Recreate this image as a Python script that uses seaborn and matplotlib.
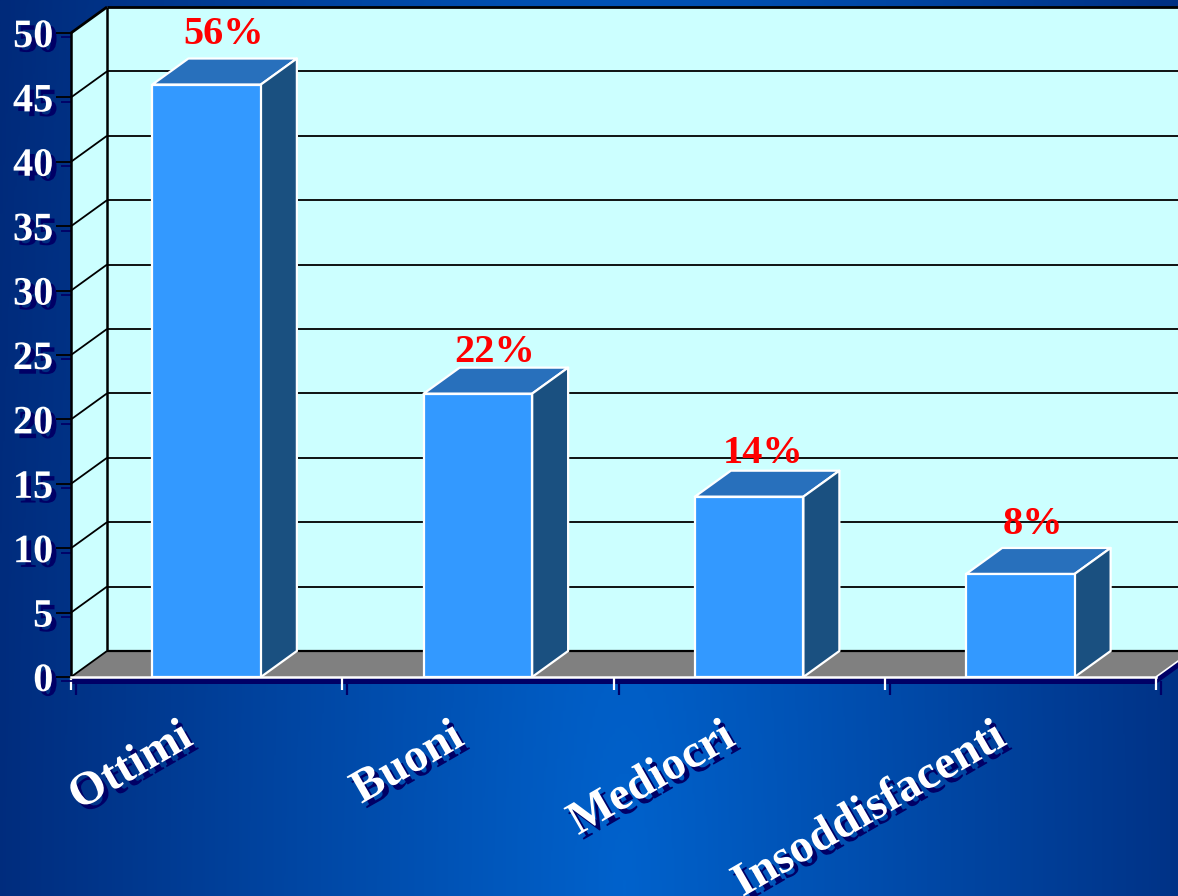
import matplotlib
matplotlib.use("Agg")
import matplotlib.pyplot as plt
import matplotlib.patheffects as pe
from matplotlib.colors import LinearSegmentedColormap
from matplotlib.patches import Polygon
from matplotlib.lines import Line2D
from matplotlib.transforms import IdentityTransform, ScaledTranslation
import numpy as np
import pandas as pd
import seaborn as sns

# Survey ratings and the heights of their columns
categories = ["Ottimi", "Buoni", "Mediocri", "Insoddisfacenti"]
bar_heights = [46, 22, 14, 8]
percent_labels = ["56%", "22%", "14%", "8%"]
y_ticks = [0, 5, 10, 15, 20, 25, 30, 35, 40, 45, 50]

W, H, DPI = 1178, 896, 100
DEPTH_X, DEPTH_Y = 36, 26          # oblique depth of the chart box, in pixels
LABEL_OFFSETS = [(17, 50), (17, 41), (14, 43), (13, 49)]

WALL = "#CCFFFF"
FLOOR = "#808080"
FRONT = "#3399FF"
TOP = "#2870BC"
SIDE = "#1A5080"
NAVY = "#000066"

sns.set_theme(style="white")
plt.rcParams["font.family"] = ["Liberation Serif", "DejaVu Serif"]
plt.rcParams["font.weight"] = "bold"

fig = plt.figure(figsize=(W / DPI, H / DPI), dpi=DPI)

# Slide background: blue glow fading towards the edges
bg = fig.add_axes([0, 0, 1, 1], zorder=-1)
xx, yy = np.meshgrid(np.linspace(0, 1, 400), np.linspace(0, 1, 300))
glow = np.clip(1 - np.hypot((xx - 0.53) / 0.56, (1 - yy) * 0.3), 0, 1)
cmap = LinearSegmentedColormap.from_list("slide", ["#002A7A", "#0062CC"])
bg.imshow(glow, cmap=cmap, aspect="auto", extent=(0, 1, 0, 1), origin="upper")
bg.set_axis_off()

ax = fig.add_axes([71 / W, (H - 677) / H, 1085 / W, 644 / H])
ax.patch.set_visible(False)

df = pd.DataFrame({"categoria": categories, "valore": bar_heights})
sns.barplot(data=df, x="categoria", y="valore", order=categories, width=0.4,
            color=FRONT, saturation=1, edgecolor="white", linewidth=1.6, ax=ax)
ax.set_xlim(-0.5, 3.5)
ax.set_ylim(0, 50)
ax.set_xlabel("")
ax.set_ylabel("")
ax.set_axisbelow(True)
fig.canvas.draw()


def to_px(x, y):
    return ax.transData.transform((x, y))


def face(points, zorder, **style):
    ax.add_patch(Polygon(np.array(points), closed=True, transform=IdentityTransform(),
                         clip_on=False, zorder=zorder, **style))


def wire(p, q, color="black", lw=1.3, zorder=0.9):
    ax.add_line(Line2D([p[0], q[0]], [p[1], q[1]], color=color, lw=lw,
                       transform=IdentityTransform(), clip_on=False, zorder=zorder,
                       solid_capstyle="butt"))


depth = np.array([DEPTH_X, DEPTH_Y])
x0, x1 = ax.get_xlim()
y0, y1 = ax.get_ylim()
bl, br, tl, tr = to_px(x0, y0), to_px(x1, y0), to_px(x0, y1), to_px(x1, y1)

# Box of the chart: back wall, left wall, floor and the floor's front edge
face([bl + depth, br + depth, tr + depth, tl + depth], 0.7, facecolor=WALL, edgecolor="none")
face([bl, bl + depth, tl + depth, tl], 0.7, facecolor=WALL, edgecolor="none")
face([bl, br, br + depth, bl + depth], 0.75, facecolor=FLOOR, edgecolor="none")
face([bl + (0, -7), br + (0, -7), br + depth + (0, -7), br + depth, br, bl], 0.4,
     facecolor=NAVY, edgecolor="none")
wire(br, br + depth, color="white", lw=1.2)

for tick in y_ticks[1:-1]:
    p = to_px(x0, tick)
    wire(p, p + depth)
    wire(p + depth, to_px(x1, tick) + depth)
wire(bl + depth, br + depth, lw=1.6)
wire(bl, bl + depth, lw=1.3)
wire(tl, tl + depth, lw=2)
wire(tl + depth, tr + depth, lw=2)
wire(bl + depth, tl + depth, lw=1.8)

# Oblique top and side of every column
for bar in ax.patches[:len(categories)]:
    bar.set_zorder(3)
    bb = bar.get_bbox()
    a, b = to_px(bb.x0, bb.y1), to_px(bb.x1, bb.y1)
    c = to_px(bb.x1, bb.y0)
    face([a, b, b + depth, a + depth], 2.9, facecolor=TOP, edgecolor="white", linewidth=1.6,
         joinstyle="round")
    face([b, c, c + depth, b + depth], 2.9, facecolor=SIDE, edgecolor="white", linewidth=1.6,
         joinstyle="round")

# Axes furniture
for side in ("top", "right"):
    ax.spines[side].set_visible(False)
ax.spines["left"].set_color("black")
ax.spines["left"].set_linewidth(1.8)
ax.spines["bottom"].set_color("white")
ax.spines["bottom"].set_linewidth(1.8)
ax.spines["bottom"].set_zorder(3.5)

shadow = [pe.SimplePatchShadow(offset=(3.4, -3.4), shadow_rgbFace=NAVY, alpha=1), pe.Normal()]
tick_shadow = [pe.SimpleLineShadow(offset=(3.6, -3.2), shadow_color=NAVY, alpha=1), pe.Normal()]

ax.set_yticks(y_ticks)
ax.tick_params(axis="y", which="major", left=True, length=10.8, width=1.3, color="black",
               labelsize=29, labelcolor="white", pad=2)
for t in ax.yaxis.get_major_ticks():
    t.tick1line.set_path_effects(tick_shadow)
    t.label1.set_path_effects(shadow)
    t.label1.set_fontweight("bold")

ax.set_xticks(range(len(categories)))
ax.set_xticks(np.arange(x0, x1 + 0.5, 1), minor=True)
ax.tick_params(axis="x", which="major", bottom=False, length=0, labelsize=34, labelcolor="white")
ax.tick_params(axis="x", which="minor", bottom=True, length=9.4, width=1.6, color="white")
for t in ax.xaxis.get_minor_ticks():
    t.tick1line.set_path_effects(tick_shadow)

label_shift = ScaledTranslation(-28 / DPI, -34 / DPI, fig.dpi_scale_trans)
for label in ax.get_xticklabels():
    label.set_rotation(30)
    label.set_rotation_mode("anchor")
    label.set_ha("right")
    label.set_va("top")
    label.set_fontweight("bold")
    label.set_path_effects(shadow)
    label.set_transform(label.get_transform() + label_shift)

# Percentages printed above the columns
for bar, text, off in zip(ax.patches[:len(categories)], percent_labels, LABEL_OFFSETS):
    bb = bar.get_bbox()
    ax.annotate(text, xy=((bb.x0 + bb.x1) / 2, bb.y1), xycoords="data",
                xytext=(off[0] * 72 / DPI, off[1] * 72 / DPI), textcoords="offset points",
                ha="center", va="center", color="#FF0000", fontsize=29, fontweight="bold",
                zorder=5, annotation_clip=False)

fig.savefig("out.png", dpi=DPI)
